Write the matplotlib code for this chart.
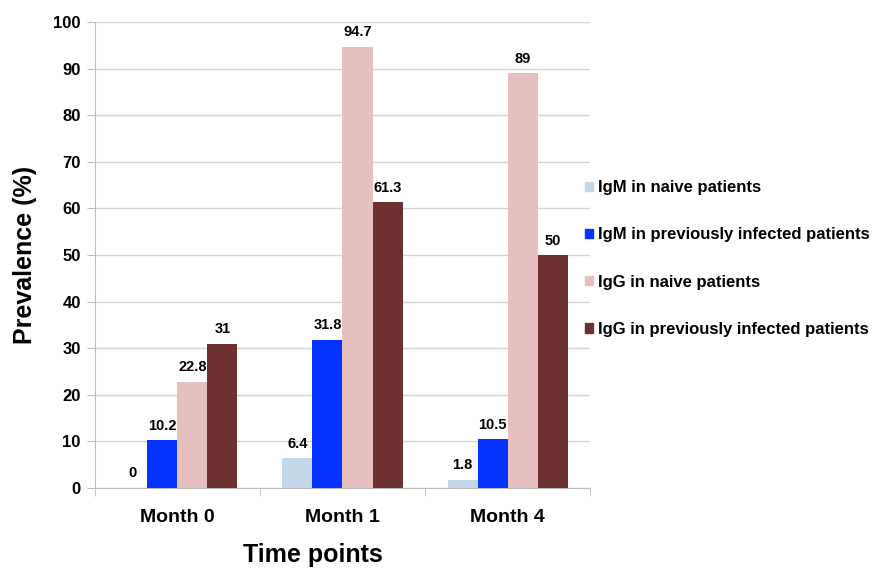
import numpy as np
import matplotlib.pyplot as plt
from matplotlib.patches import Patch

plt.rcParams['font.family'] = ['Liberation Sans', 'DejaVu Sans']
plt.rcParams['font.weight'] = 'bold'

months = ['Month 0', 'Month 1', 'Month 4']
series = ['IgM in naive patients', 'IgM in previously infected patients',
          'IgG in naive patients', 'IgG in previously infected patients']
igm_naive = [0, 6.4, 1.8]
igm_prev = [10.2, 31.8, 10.5]
igg_naive = [22.8, 94.7, 89]
igg_prev = [31, 61.3, 50]
colors = ['#c5d7ea', '#0533ff', '#e6bfbe', '#6d3131']

fig = plt.figure(figsize=(8.77, 5.68), dpi=100)
ax = fig.add_axes([0.108, 0.141, 0.565, 0.82])

x = np.arange(len(months))
w = 0.182
vals = [igm_naive, igm_prev, igg_naive, igg_prev]
for i, (v, c) in enumerate(zip(vals, colors)):
    pos = x + (i - 1.5) * w
    ax.bar(pos, v, w, color=c, zorder=3)
    for p, t in zip(pos, v):
        ax.text(p, t + 1.6, f'{t:g}', ha='center', va='bottom',
                fontsize=10.5, fontweight='bold')

ax.set_xlim(-0.5, 2.5)
ax.set_ylim(0, 100)
ax.set_yticks(range(0, 101, 10))
ax.tick_params(axis='y', labelsize=12, length=6, color='#bbbbbb', pad=4)
ax.set_xticks(x)
ax.set_xticklabels(months, fontsize=14, fontweight='bold')
ax.tick_params(axis='x', length=0, pad=15)
ax.set_xticks([-0.5, 0.5, 1.5, 2.5], minor=True)
ax.tick_params(axis='x', which='minor', length=6, color='#bbbbbb')
ax.grid(axis='y', color='#d4d4d4', linewidth=1, zorder=0)
for s in ['top', 'right']:
    ax.spines[s].set_visible(False)
for s in ['left', 'bottom']:
    ax.spines[s].set_color('#bbbbbb')

ax.set_ylabel('Prevalence (%)', fontsize=18, fontweight='bold', labelpad=12)
ax.set_xlabel('Time points', fontsize=18, fontweight='bold')
ax.xaxis.set_label_coords(0.44, -0.118)

handles = [Patch(color=c) for c in colors]
fig.legend(handles, series, loc='center left', bbox_to_anchor=(0.667, 0.545),
           frameon=False, fontsize=12, handlelength=0.5, handleheight=0.5,
           handletextpad=0.3, labelspacing=1.93, borderpad=0, borderaxespad=0)

fig.savefig('out.png', dpi=100)
